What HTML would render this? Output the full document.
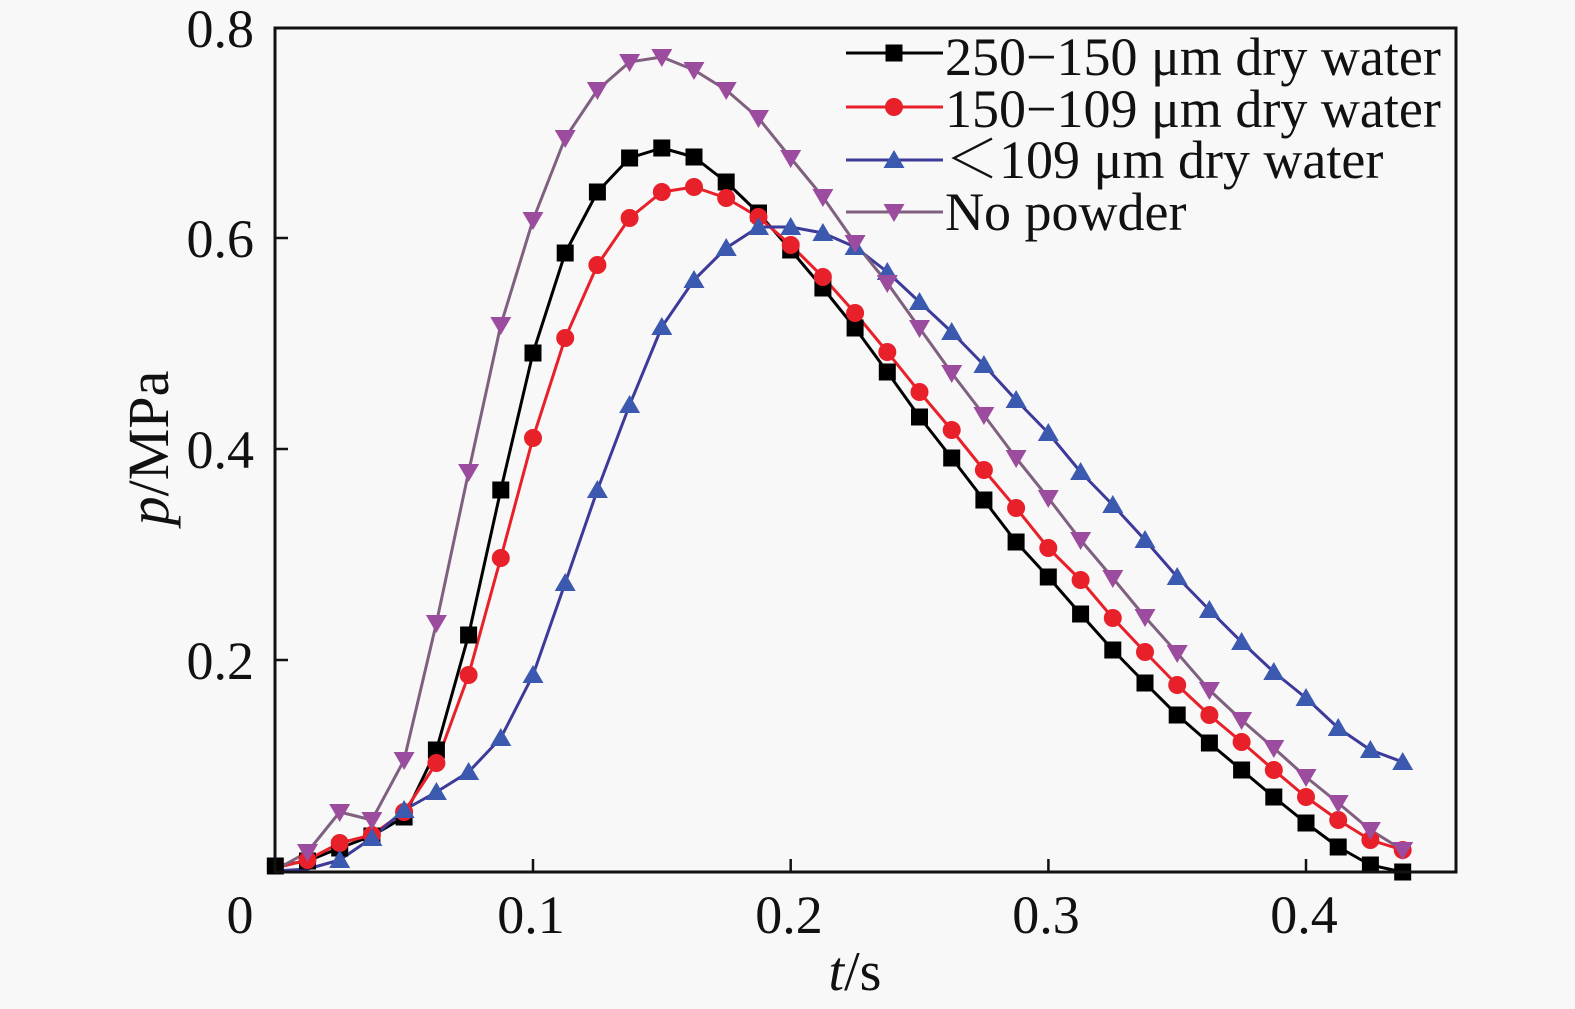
<!DOCTYPE html>
<html><head><meta charset="utf-8"><style>
html,body{margin:0;padding:0;background:#f8f8f8;}
svg{display:block;}
text{font-family:"Liberation Serif","Noto Serif CJK SC",serif;fill:#111;}
</style></head><body>
<svg width="1575" height="1009" viewBox="0 0 1575 1009" xmlns="http://www.w3.org/2000/svg">
<defs>
<rect id="sq" x="-8.5" y="-8.5" width="17" height="17" fill="#000"/>
<circle id="ci" r="9" fill="#e8202a"/>
<polygon id="ut" points="0,-10 10.5,8 -10.5,8" fill="#3c59b0"/>
<polygon id="dt" points="0,10 10.5,-8 -10.5,-8" fill="#9c4c9e"/>
</defs>
<rect width="1575" height="1009" fill="#f8f8f8"/>

<!-- series lines -->
<g fill="none" stroke-width="3" stroke-linejoin="round" stroke-linecap="round">
<polyline stroke="#000" points="275.3,866 307.5,861 339.7,848 371.9,836 404.1,817 436.4,750 468.6,635 500.8,490 533,353 565.2,253 597.4,192 629.6,158 661.8,148 694,157 726.2,182 758.5,213 790.7,250 822.9,288 855.1,328 887.3,372 919.5,417 951.7,458 983.9,500 1016.1,542 1048.3,577 1080.6,614 1112.8,650 1145,683 1177.2,715 1209.4,743 1241.6,770 1273.8,797 1306,823 1338.2,847 1370.4,865 1402.7,872"/>
<polyline stroke="#e8202a" points="275.3,868 307.5,860 339.7,843 371.9,835 404.1,812 436.4,763 468.6,675 500.8,558 533,438 565.2,338 597.4,265 629.6,218 661.8,192 694,187 726.2,198 758.5,217 790.7,245 822.9,277 855.1,313 887.3,352 919.5,392 951.7,430 983.9,470 1016.1,508 1048.3,548 1080.6,580 1112.8,618 1145,652 1177.2,685 1209.4,715 1241.6,742 1273.8,770 1306,797 1338.2,820 1370.4,840 1402.7,850"/>
<polyline stroke="#3d3a9a" points="275.3,871 307.5,869 339.7,860 371.9,838 404.1,810 436.4,792 468.6,772 500.8,738 533,675 565.2,583 597.4,490 629.6,405 661.8,327 694,280 726.2,248 758.5,227 790.7,227 822.9,233 855.1,247 887.3,272 919.5,302 951.7,332 983.9,365 1016.1,400 1048.3,433 1080.6,472 1112.8,505 1145,540 1177.2,577 1209.4,610 1241.6,642 1273.8,672 1306,698 1338.2,728 1370.4,750 1402.7,762"/>
<polyline stroke="#80607f" points="275.3,870 307.5,852 339.7,812 371.9,820 404.1,760 436.4,623 468.6,472 500.8,325 533,220 565.2,138 597.4,90 629.6,62 661.8,57 694,70 726.2,90 758.5,118 790.7,158 822.9,197 855.1,243 887.3,283 919.5,328 951.7,373 983.9,415 1016.1,458 1048.3,498 1080.6,540 1112.8,578 1145,617 1177.2,653 1209.4,690 1241.6,720 1273.8,748 1306,777 1338.2,803 1370.4,830 1402.7,850"/>
</g>

<!-- markers black -->
<g>
<use href="#sq" x="275.3" y="866"/><use href="#sq" x="307.5" y="861"/><use href="#sq" x="339.7" y="848"/><use href="#sq" x="371.9" y="836"/><use href="#sq" x="404.1" y="817"/><use href="#sq" x="436.4" y="750"/><use href="#sq" x="468.6" y="635"/><use href="#sq" x="500.8" y="490"/><use href="#sq" x="533" y="353"/><use href="#sq" x="565.2" y="253"/><use href="#sq" x="597.4" y="192"/><use href="#sq" x="629.6" y="158"/><use href="#sq" x="661.8" y="148"/><use href="#sq" x="694" y="157"/><use href="#sq" x="726.2" y="182"/><use href="#sq" x="758.5" y="213"/><use href="#sq" x="790.7" y="250"/><use href="#sq" x="822.9" y="288"/><use href="#sq" x="855.1" y="328"/><use href="#sq" x="887.3" y="372"/><use href="#sq" x="919.5" y="417"/><use href="#sq" x="951.7" y="458"/><use href="#sq" x="983.9" y="500"/><use href="#sq" x="1016.1" y="542"/><use href="#sq" x="1048.3" y="577"/><use href="#sq" x="1080.6" y="614"/><use href="#sq" x="1112.8" y="650"/><use href="#sq" x="1145" y="683"/><use href="#sq" x="1177.2" y="715"/><use href="#sq" x="1209.4" y="743"/><use href="#sq" x="1241.6" y="770"/><use href="#sq" x="1273.8" y="797"/><use href="#sq" x="1306" y="823"/><use href="#sq" x="1338.2" y="847"/><use href="#sq" x="1370.4" y="865"/><use href="#sq" x="1402.7" y="872"/>
</g>
<!-- markers red -->
<g>
<use href="#ci" x="307.5" y="860"/><use href="#ci" x="339.7" y="843"/><use href="#ci" x="371.9" y="835"/><use href="#ci" x="404.1" y="812"/><use href="#ci" x="436.4" y="763"/><use href="#ci" x="468.6" y="675"/><use href="#ci" x="500.8" y="558"/><use href="#ci" x="533" y="438"/><use href="#ci" x="565.2" y="338"/><use href="#ci" x="597.4" y="265"/><use href="#ci" x="629.6" y="218"/><use href="#ci" x="661.8" y="192"/><use href="#ci" x="694" y="187"/><use href="#ci" x="726.2" y="198"/><use href="#ci" x="758.5" y="217"/><use href="#ci" x="790.7" y="245"/><use href="#ci" x="822.9" y="277"/><use href="#ci" x="855.1" y="313"/><use href="#ci" x="887.3" y="352"/><use href="#ci" x="919.5" y="392"/><use href="#ci" x="951.7" y="430"/><use href="#ci" x="983.9" y="470"/><use href="#ci" x="1016.1" y="508"/><use href="#ci" x="1048.3" y="548"/><use href="#ci" x="1080.6" y="580"/><use href="#ci" x="1112.8" y="618"/><use href="#ci" x="1145" y="652"/><use href="#ci" x="1177.2" y="685"/><use href="#ci" x="1209.4" y="715"/><use href="#ci" x="1241.6" y="742"/><use href="#ci" x="1273.8" y="770"/><use href="#ci" x="1306" y="797"/><use href="#ci" x="1338.2" y="820"/><use href="#ci" x="1370.4" y="840"/><use href="#ci" x="1402.7" y="850"/>
</g>
<!-- markers blue -->
<g>
<use href="#ut" x="339.7" y="860"/><use href="#ut" x="371.9" y="838"/><use href="#ut" x="404.1" y="810"/><use href="#ut" x="436.4" y="792"/><use href="#ut" x="468.6" y="772"/><use href="#ut" x="500.8" y="738"/><use href="#ut" x="533" y="675"/><use href="#ut" x="565.2" y="583"/><use href="#ut" x="597.4" y="490"/><use href="#ut" x="629.6" y="405"/><use href="#ut" x="661.8" y="327"/><use href="#ut" x="694" y="280"/><use href="#ut" x="726.2" y="248"/><use href="#ut" x="758.5" y="227"/><use href="#ut" x="790.7" y="227"/><use href="#ut" x="822.9" y="233"/><use href="#ut" x="855.1" y="247"/><use href="#ut" x="887.3" y="272"/><use href="#ut" x="919.5" y="302"/><use href="#ut" x="951.7" y="332"/><use href="#ut" x="983.9" y="365"/><use href="#ut" x="1016.1" y="400"/><use href="#ut" x="1048.3" y="433"/><use href="#ut" x="1080.6" y="472"/><use href="#ut" x="1112.8" y="505"/><use href="#ut" x="1145" y="540"/><use href="#ut" x="1177.2" y="577"/><use href="#ut" x="1209.4" y="610"/><use href="#ut" x="1241.6" y="642"/><use href="#ut" x="1273.8" y="672"/><use href="#ut" x="1306" y="698"/><use href="#ut" x="1338.2" y="728"/><use href="#ut" x="1370.4" y="750"/><use href="#ut" x="1402.7" y="762"/>
</g>
<!-- markers purple -->
<g>
<use href="#dt" x="307.5" y="852"/><use href="#dt" x="339.7" y="812"/><use href="#dt" x="371.9" y="820"/><use href="#dt" x="404.1" y="760"/><use href="#dt" x="436.4" y="623"/><use href="#dt" x="468.6" y="472"/><use href="#dt" x="500.8" y="325"/><use href="#dt" x="533" y="220"/><use href="#dt" x="565.2" y="138"/><use href="#dt" x="597.4" y="90"/><use href="#dt" x="629.6" y="62"/><use href="#dt" x="661.8" y="57"/><use href="#dt" x="694" y="70"/><use href="#dt" x="726.2" y="90"/><use href="#dt" x="758.5" y="118"/><use href="#dt" x="790.7" y="158"/><use href="#dt" x="822.9" y="197"/><use href="#dt" x="855.1" y="243"/><use href="#dt" x="887.3" y="283"/><use href="#dt" x="919.5" y="328"/><use href="#dt" x="951.7" y="373"/><use href="#dt" x="983.9" y="415"/><use href="#dt" x="1016.1" y="458"/><use href="#dt" x="1048.3" y="498"/><use href="#dt" x="1080.6" y="540"/><use href="#dt" x="1112.8" y="578"/><use href="#dt" x="1145" y="617"/><use href="#dt" x="1177.2" y="653"/><use href="#dt" x="1209.4" y="690"/><use href="#dt" x="1241.6" y="720"/><use href="#dt" x="1273.8" y="748"/><use href="#dt" x="1306" y="777"/><use href="#dt" x="1338.2" y="803"/><use href="#dt" x="1370.4" y="830"/><use href="#dt" x="1402.7" y="850"/>
</g>

<!-- frame -->
<rect x="275" y="28" width="1181" height="844" fill="none" stroke="#111" stroke-width="3"/>
<!-- ticks -->
<g stroke="#111" stroke-width="2.5">
<line x1="275" y1="660" x2="288" y2="660"/>
<line x1="275" y1="449" x2="288" y2="449"/>
<line x1="275" y1="238" x2="288" y2="238"/>
<line x1="533" y1="872" x2="533" y2="859"/>
<line x1="790.7" y1="872" x2="790.7" y2="859"/>
<line x1="1048.4" y1="872" x2="1048.4" y2="859"/>
<line x1="1306" y1="872" x2="1306" y2="859"/>
</g>

<!-- tick labels -->
<g font-size="54">
<text x="254" y="47" text-anchor="end">0.8</text>
<text x="254" y="257" text-anchor="end">0.6</text>
<text x="254" y="468" text-anchor="end">0.4</text>
<text x="254" y="679" text-anchor="end">0.2</text>
<text x="240" y="933" text-anchor="middle">0</text>
<text x="531" y="933" text-anchor="middle">0.1</text>
<text x="789" y="933" text-anchor="middle">0.2</text>
<text x="1046" y="933" text-anchor="middle">0.3</text>
<text x="1304" y="933" text-anchor="middle">0.4</text>
</g>
<!-- axis titles -->
<text x="855" y="990" font-size="56" text-anchor="middle"><tspan font-style="italic">t</tspan>/s</text>
<text transform="translate(168,448) rotate(-90)" font-size="58" text-anchor="middle"><tspan font-style="italic">p</tspan>/MPa</text>

<!-- legend -->
<g stroke-width="3">
<line x1="846" y1="53" x2="943" y2="53" stroke="#000"/>
<line x1="846" y1="107" x2="943" y2="107" stroke="#e8202a"/>
<line x1="846" y1="160" x2="943" y2="160" stroke="#3d3a9a"/>
<line x1="846" y1="212" x2="943" y2="212" stroke="#80607f"/>
</g>
<use href="#sq" x="894" y="53"/>
<use href="#ci" x="894" y="107"/>
<use href="#ut" x="894" y="160"/>
<use href="#dt" x="894" y="212"/>
<g font-size="54">
<text x="945" y="75">250−150 μm dry water</text>
<text x="945" y="127">150−109 μm dry water</text>
<text x="945" y="178">＜109 μm dry water</text>
<text x="945" y="230">No powder</text>
</g>
</svg>
</body></html>
